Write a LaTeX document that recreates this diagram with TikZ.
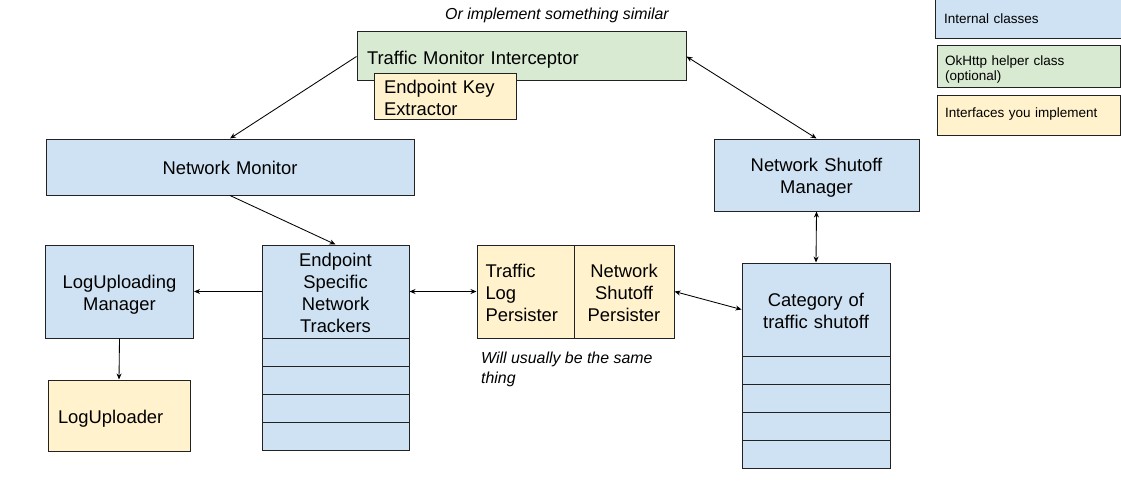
\documentclass[tikz,border=0pt]{standalone}
\usepackage{fontspec}
\setmainfont{Liberation Sans}
\usetikzlibrary{arrows.meta}
\definecolor{cblue}{HTML}{CFE2F3}
\definecolor{cgreen}{HTML}{D9EAD3}
\definecolor{cyellow}{HTML}{FFF2CC}
\definecolor{cline}{HTML}{222222}
\newcommand\mainfs{\fontsize{18.4}{22}\selectfont}
\newcommand\legfs{\fontsize{13.5}{15}\selectfont}
\newcommand\notefs{\fontsize{15.9}{20}\selectfont\itshape}
\newcommand\topst{\rule{0pt}{19.2pt}}
\newcommand\botst{\rule[-4pt]{0pt}{4pt}}
\tikzset{
  boxbase/.style={draw=cline, line width=1pt, inner sep=0pt, font=\mainfs, align=center,
    execute at begin node=\topst, execute at end node=\botst},
  bluebox/.style={boxbase, fill=cblue},
  greenbox/.style={boxbase, fill=cgreen},
  yellowbox/.style={boxbase, fill=cyellow},
  legbox/.style={draw=cline, line width=1pt, inner xsep=8pt, inner ysep=0pt, font=\legfs, align=left},
  conn/.style={draw=black, line width=0.85pt, -{Stealth[length=6pt,width=5pt]}},
  bconn/.style={draw=black, line width=0.85pt, {Stealth[length=6pt,width=5pt]}-{Stealth[length=6pt,width=5pt]}},
}
\begin{document}
\begin{tikzpicture}[x=1pt,y=-1pt]
\useasboundingbox (0,0) rectangle (1121,492);
\clip (0,0) rectangle (1121,492);
\fill[white] (0,0) rectangle (1121,492);

% legend
\node[legbox, fill=cblue, minimum width=195pt, minimum height=41pt, text width=177pt] (lgb) at (1032.5,18.5) {\rule{0pt}{14pt}Internal classes\rule[-3pt]{0pt}{3pt}};
\node[legbox, fill=cgreen, minimum width=183pt, minimum height=42pt, text width=167pt] (lgg) at (1028.5,67) {\rule{0pt}{15pt}OkHttp helper class\\(optional)\rule[-3pt]{0pt}{3pt}};
\node[legbox, fill=cyellow, minimum width=183pt, minimum height=40pt, text width=167pt] (lgy) at (1028.5,116) {\rule{0pt}{12pt}Interfaces you implement\rule[-9pt]{0pt}{9pt}};

% notes
\node[font=\notefs, inner sep=0pt, anchor=base] (n1) at (557,19.3) {Or implement something similar};
\node[font=\notefs, inner sep=0pt, align=left, anchor=north west] (n2) at (481,351.5) {Will usually be the same\\thing};

% boxes
\node[greenbox, minimum width=329pt, minimum height=49pt, text width=309pt, align=left, inner xsep=10pt] (tmi) at (521.5,56.5) {Traffic Monitor Interceptor};
\node[yellowbox, minimum width=142pt, minimum height=45pt, text width=122pt, align=left, inner xsep=10pt] (eke) at (445,96.5) {Endpoint Key\\Extractor};
\node[bluebox, minimum width=368pt, minimum height=56pt, text width=368pt] (nm) at (230,167) {Network Monitor};
\node[bluebox, minimum width=205pt, minimum height=72pt, text width=205pt] (nsm) at (816.5,175) {Network Shutoff\\Manager};
\node[bluebox, minimum width=148pt, minimum height=93pt, text width=148pt] (lum) at (119.5,291.5) {LogUploading\\Manager};
\node[bluebox, minimum width=147pt, minimum height=93pt, text width=147pt] (est) at (335.5,291.5) {Endpoint\\Specific\\Network\\Trackers};
\foreach \i/\y in {1/352,2/380,3/408,4/436}
  \node[bluebox, minimum width=147pt, minimum height=28pt, text width=147pt] (est\i) at (335.5,\y) {};
\node[yellowbox, minimum width=97pt, minimum height=93pt, text width=80pt, align=left, inner xsep=8.5pt] (tlp) at (525.5,291.5) {Traffic\\Log\\Persister};
\node[yellowbox, minimum width=100pt, minimum height=93pt, text width=100pt] (nsp) at (624,291.5) {Network\\Shutoff\\Persister};
\node[bluebox, minimum width=148pt, minimum height=93pt, text width=148pt] (cat) at (816,309.5) {Category of\\traffic shutoff};
\foreach \i/\y in {1/370,2/398,3/426,4/454}
  \node[bluebox, minimum width=148pt, minimum height=28pt, text width=148pt] (cat\i) at (816,\y) {};
\node[yellowbox, minimum width=142pt, minimum height=71pt, text width=122pt, align=left, inner xsep=10pt] (lu) at (119,415.5) {LogUploader};

% connectors
\draw[conn] (tmi.west) -- (nm.north);
\draw[bconn] (tmi.east) -- (nsm.north);
\draw[conn] (nm.south) -- (est.north);
\draw[conn] (est.west) -- (lum.east);
\draw[bconn] (est.east) -- (tlp.west);
\draw[bconn] (nsp.east) -- (cat.west);
\draw[bconn] (nsm.south) -- (cat.north);
\draw[conn] (lum.south) -- (lu.north);
\end{tikzpicture}
\end{document}
